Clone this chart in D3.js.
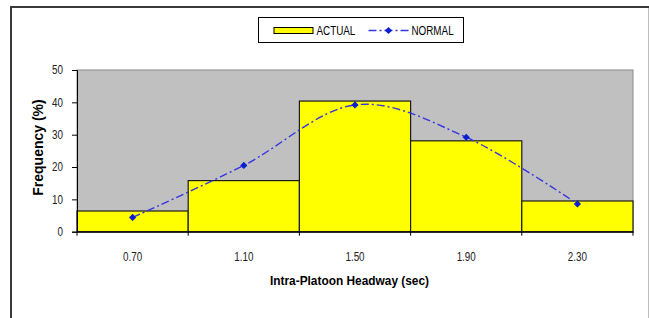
<!DOCTYPE html>
<html>
<head>
<meta charset="utf-8">
<script src="https://cdn.jsdelivr.net/npm/d3@7"></script>
<style>
  html, body { margin: 0; padding: 0; background: #fff; }
  #chart { width: 649px; height: 318px; }
  svg { display: block; }
</style>
</head>
<body>
<div id="chart"></div>
<script>
// headway bins (sec) and frequencies (%)
const bins = ["0.70", "1.10", "1.50", "1.90", "2.30"];
const actual = [6.4, 15.8, 40.4, 28.1, 9.5];
const normal = [4.4, 20.5, 39.2, 29.2, 8.6];
const yTicks = [0, 10, 20, 30, 40, 50];

const font = '"Liberation Sans", Arial, sans-serif';

// no narrow font installed, squeeze the labels instead
function squeeze(sel, k = 0.82) {
  sel.each(function () {
    const len = this.getComputedTextLength();
    d3.select(this).attr('textLength', len * k).attr('lengthAdjust', 'spacingAndGlyphs');
  });
}

class HeadwayChart {
  constructor(id) {
    this.id = id;
    this.width = 649;
    this.height = 318;
    // plot area
    this.margin = { top: 70, right: 16, bottom: 86.3, left: 77 };
    this.svg = null;
    this.mg = null;
  }

  init() {
    this.svg = d3.select(`#${this.id}`).append('svg')
      .attr('width', this.width)
      .attr('height', this.height);
    this.innerWidth = this.width - this.margin.left - this.margin.right;
    this.innerHeight = this.height - this.margin.top - this.margin.bottom;
    this.x = d3.scaleBand().domain(bins).range([0, this.innerWidth]).padding(0);
    this.y = d3.scaleLinear().domain([0, 50]).range([this.innerHeight, 0]);
    return this;
  }

  render() {
    this.renderFrame();
    this.mg = this.svg.append('g')
      .attr('transform', `translate(${this.margin.left},${this.margin.top})`);
    this.renderPlotArea();
    this.renderBars();
    this.renderNormal();
    this.renderAxes();
    this.renderTitles();
    this.renderLegend();
    return this;
  }

  renderFrame() {
    // dark top/left edge, light right edge
    this.svg.append('line').attr('x1', 10).attr('x2', 649).attr('y1', 7).attr('y2', 7)
      .attr('stroke', '#3a3a3a').attr('stroke-width', 2);
    this.svg.append('line').attr('x1', 11).attr('x2', 11).attr('y1', 6).attr('y2', 318)
      .attr('stroke', '#3a3a3a').attr('stroke-width', 2);
    this.svg.append('line').attr('x1', 648.5).attr('x2', 648.5).attr('y1', 8).attr('y2', 318)
      .attr('stroke', '#bdbdbd').attr('stroke-width', 1);
  }

  renderPlotArea() {
    this.mg.append('rect')
      .attr('width', this.innerWidth)
      .attr('height', this.innerHeight)
      .attr('fill', '#c0c0c0')
      .attr('stroke', '#8c8c8c')
      .attr('stroke-width', 1);
  }

  renderBars() {
    this.mg.append('g').selectAll('rect')
      .data(actual)
      .join('rect')
      .attr('x', (d, i) => this.x(bins[i]))
      .attr('y', d => this.y(d))
      .attr('width', this.x.bandwidth())
      .attr('height', d => this.y(0) - this.y(d))
      .attr('fill', '#ffff00')
      .attr('stroke', '#1a1a1a')
      .attr('stroke-width', 1.2);
  }

  renderNormal() {
    const pts = normal.map((v, i) => [this.x(bins[i]) + this.x.bandwidth() / 2, this.y(v)]);
    const line = d3.line().curve(d3.curveCardinal.tension(0));
    this.mg.append('path')
      .attr('d', line(pts))
      .attr('fill', 'none')
      .attr('stroke', '#3434e0')
      .attr('stroke-width', 1.4)
      .attr('stroke-dasharray', '8,3,2,3');
    this.mg.append('g').selectAll('path')
      .data(pts)
      .join('path')
      .attr('d', d3.symbol(d3.symbolSquare, 26))
      .attr('transform', d => `translate(${d[0]},${d[1]}) rotate(45)`)
      .attr('fill', '#0a1fd0');
  }

  renderAxes() {
    const yAxis = d3.axisLeft(this.y).tickValues(yTicks).tickSize(5).tickPadding(9);
    const gy = this.mg.append('g').call(yAxis);
    gy.select('.domain').attr('stroke', '#000');
    gy.selectAll('line').attr('stroke', '#000');
    gy.selectAll('text').attr('font-family', font).attr('font-size', 12).attr('fill', '#222')
      .call(squeeze);

    const xAxis = d3.axisBottom(this.x).tickSize(0).tickPadding(20.5);
    const gx = this.mg.append('g').attr('transform', `translate(0,${this.innerHeight})`).call(xAxis);
    gx.select('.domain').attr('stroke', '#000').attr('stroke-width', 1.2);
    gx.selectAll('text').attr('font-family', font).attr('font-size', 12).attr('fill', '#222')
      .call(squeeze);
    // ticks at the bin edges
    const edges = bins.map(b => this.x(b)).concat([this.innerWidth]);
    gx.selectAll('.edge')
      .data(edges)
      .join('line')
      .attr('class', 'edge')
      .attr('x1', d => d).attr('x2', d => d)
      .attr('y1', 0).attr('y2', 4)
      .attr('stroke', '#000');
  }

  renderTitles() {
    this.svg.append('text')
      .attr('x', 349.5)
      .attr('y', 285)
      .attr('text-anchor', 'middle')
      .attr('font-family', font)
      .attr('font-weight', 'bold')
      .attr('font-size', 13.5)
      .text('Intra-Platoon Headway (sec)')
      .call(squeeze, 0.88);
    this.svg.append('text')
      .attr('transform', 'translate(42.7,147.5) rotate(-90)')
      .attr('text-anchor', 'middle')
      .attr('font-family', font)
      .attr('font-weight', 'bold')
      .attr('font-size', 14)
      .text('Frequency (%)');
  }

  renderLegend() {
    const lg = this.svg.append('g').attr('transform', 'translate(258.5,17.5)');
    lg.append('rect').attr('width', 205).attr('height', 25)
      .attr('fill', '#fff').attr('stroke', '#000');
    lg.append('rect').attr('x', 15.5).attr('y', 10).attr('width', 39).attr('height', 6)
      .attr('fill', '#ffff00').attr('stroke', '#000');
    lg.append('text').attr('x', 58).attr('y', 17)
      .attr('font-family', font).attr('font-size', 12).text('ACTUAL')
      .call(squeeze);
    lg.append('line').attr('x1', 110).attr('x2', 150).attr('y1', 13).attr('y2', 13)
      .attr('stroke', '#3434e0').attr('stroke-width', 1.4).attr('stroke-dasharray', '8,3,2,3');
    lg.append('path').attr('d', d3.symbol(d3.symbolSquare, 26))
      .attr('transform', 'translate(130,13) rotate(45)').attr('fill', '#0a1fd0');
    lg.append('text').attr('x', 153).attr('y', 17)
      .attr('font-family', font).attr('font-size', 12).text('NORMAL')
      .call(squeeze);
  }
}

new HeadwayChart('chart').init().render();
</script>
</body>
</html>
